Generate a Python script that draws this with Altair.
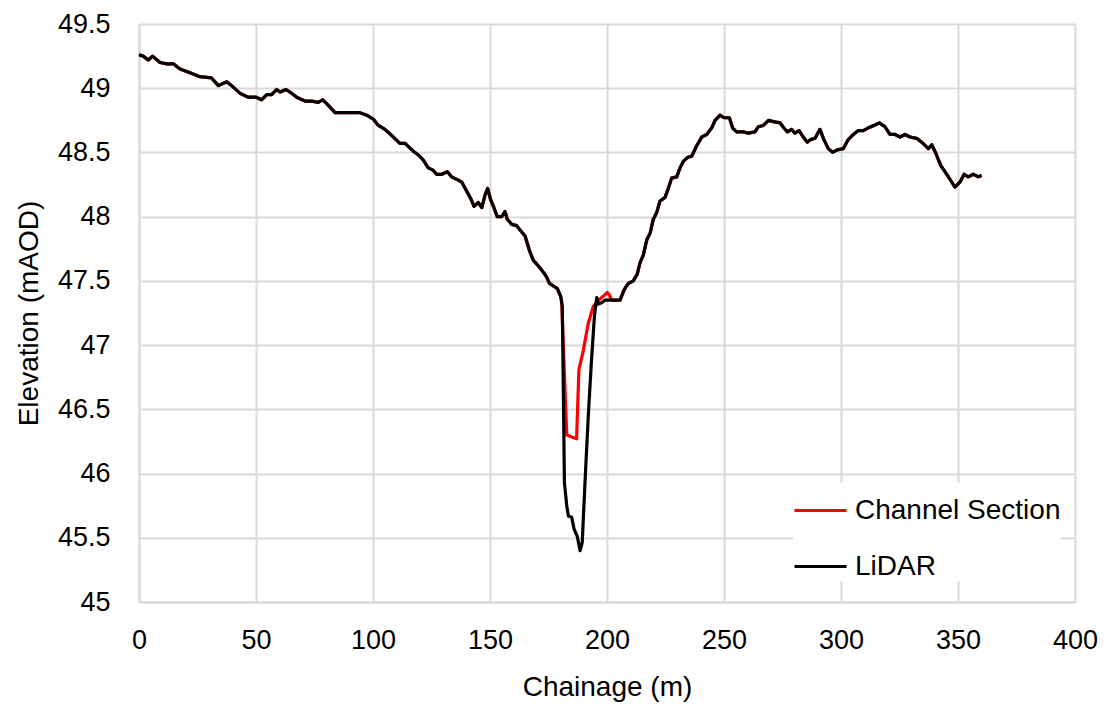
import altair as alt
import pandas as pd

# LiDAR profile (chainage m, elevation mAOD)
LIDAR_X = [0, 1.8, 4, 5.8, 9, 11.8, 14.7, 17.5, 21.8, 26, 31, 33.9, 37.5, 39.6, 43.2, 46.7, 50, 52.4,
           54.6, 56.7, 58.8, 60.3, 62.8, 64.5, 67.4, 70.9, 73.8, 76.6, 78.5, 80.2, 83.8, 87.3, 94.4, 97.3,
           100.1, 102.3, 105.1, 108.7, 111.5, 113.7, 117.2, 119.4, 121.5, 123.6, 125.8, 127.2, 129.4,
           131.8, 133.6, 135.8, 137.9, 140, 141.8, 143.2, 145, 146.5, 147.9, 149, 150.3, 151.7, 153.1,
           155, 156.4, 157.4, 159.3, 161.4, 163.1, 165, 166.8, 168.5, 170, 171.4, 173.1, 174.2, 175.4,
           177.1, 178.8, 180.2, 180.9, 181.3, 181.8, 182.8, 183.5, 184.9, 185.9, 187.3, 188.5, 189.4,
           190.6, 192, 193.4, 194.6, 195.6, 196.3, 197.7, 199.1, 200.6, 202, 205.6, 207.3, 209.1, 211.2,
           212.9, 214.1, 215.5, 217, 218.4, 219.8, 221.2, 222.6, 224.8, 226.2, 227.6, 229.8, 231.2,
           232.6, 234.3, 236.2, 238.3, 240.5, 242.6, 244.7, 246.2, 248.3, 250, 252.3, 253.7, 255.4,
           258.3, 260.4, 263.2, 264.7, 266.8, 269, 271.1, 274, 275.6, 277.1, 278.9, 280.3, 282.1,
           283.9, 285.6, 287, 288.9, 291, 292.7, 294.6, 296.4, 298.4, 301, 303.1, 305.3, 307.4, 309.5,
           311.5, 314.1, 316.4, 318.8, 320.9, 323.1, 325.2, 327.4, 329.5, 332.3, 334.5, 337.3, 338.8,
           340.6, 342.6, 345.2, 347.3, 348.7, 350.9, 352.6, 354.4, 356.5, 358.7, 360.1]
LIDAR_Y = [49.26, 49.25, 49.22, 49.25, 49.20, 49.19, 49.19, 49.15, 49.12, 49.09, 49.08, 49.02, 49.05,
           49.02, 48.96, 48.93, 48.93, 48.91, 48.95, 48.95, 48.99, 48.97, 48.99, 48.97, 48.93, 48.90,
           48.90, 48.89, 48.91, 48.88, 48.81, 48.81, 48.81, 48.79, 48.76, 48.71, 48.68, 48.62, 48.57,
           48.57, 48.51, 48.48, 48.44, 48.38, 48.36, 48.33, 48.33, 48.35, 48.31, 48.29, 48.27, 48.20,
           48.14, 48.08, 48.11, 48.07, 48.17, 48.22, 48.13, 48.07, 48.00, 48.00, 48.04, 47.98, 47.94,
           47.93, 47.89, 47.85, 47.74, 47.66, 47.63, 47.60, 47.56, 47.53, 47.48, 47.46, 47.44, 47.38,
           47.30, 46.71, 45.93, 45.75, 45.67, 45.66, 45.57, 45.51, 45.40, 45.46, 45.93, 46.45, 46.89,
           47.22, 47.37, 47.32, 47.33, 47.35, 47.35, 47.35, 47.35, 47.43, 47.48, 47.50, 47.55, 47.64,
           47.70, 47.82, 47.87, 47.98, 48.03, 48.12, 48.15, 48.22, 48.30, 48.31, 48.38, 48.43, 48.46,
           48.47, 48.55, 48.62, 48.64, 48.69, 48.75, 48.79, 48.77, 48.77, 48.69, 48.66, 48.66, 48.65,
           48.66, 48.70, 48.71, 48.75, 48.74, 48.73, 48.69, 48.66, 48.68, 48.65, 48.67, 48.62, 48.58,
           48.60, 48.61, 48.68, 48.60, 48.53, 48.50, 48.52, 48.53, 48.60, 48.64, 48.67, 48.67, 48.69,
           48.71, 48.73, 48.70, 48.64, 48.64, 48.62, 48.64, 48.62, 48.61, 48.58, 48.53, 48.56, 48.49,
           48.40, 48.33, 48.27, 48.23, 48.27, 48.33, 48.31, 48.33, 48.31, 48.32]

# Channel Section: follows LiDAR outside the channel, surveyed channel in between
CHANNEL_START = 180.2
CHANNEL_END = 202
CH_X = [180.6, 182.8, 187.0, 188.0, 189.9, 192.0, 194.1, 196.3, 198.4, 200.1, 201.0]
CH_Y = [47.35, 46.30, 46.27, 46.81, 46.96, 47.17, 47.30, 47.35, 47.38, 47.41, 47.39]

SERIES = ["Channel Section", "LiDAR"]
COLORS = ["#ff0000", "#000000"]

X_TICKS = [0, 50, 100, 150, 200, 250, 300, 350, 400]
Y_TICKS = [45, 45.5, 46, 46.5, 47, 47.5, 48, 48.5, 49, 49.5]

lidar = pd.DataFrame({"x": LIDAR_X, "y": LIDAR_Y, "series": "LiDAR"})
pre = lidar[lidar.x <= CHANNEL_START]
post = lidar[lidar.x >= CHANNEL_END]
chan = pd.concat([pre[["x", "y"]], pd.DataFrame({"x": CH_X, "y": CH_Y}), post[["x", "y"]]])
chan["series"] = "Channel Section"

FONT = "Liberation Sans"
GRID = "#d9d9d9"

x_enc = alt.X("x:Q", scale=alt.Scale(domain=[0, 400], nice=False, zero=False),
              axis=alt.Axis(values=X_TICKS, format="d", title="Chainage (m)",
                            grid=True, gridColor=GRID, gridWidth=2,
                            domainColor=GRID, domainWidth=2, ticks=False, tickSize=0,
                            labelPadding=25, labelFontSize=27, labelFont=FONT, labelColor="#000000",
                            labelFlush=False,
                            titleFont=FONT, titleFontSize=28, titleFontWeight="normal",
                            titleColor="#000000", titleBaseline="alphabetic", titleY=93))
y_enc = alt.Y("y:Q", scale=alt.Scale(domain=[45, 49.5], nice=False, zero=False),
              axis=alt.Axis(values=Y_TICKS, format="~g", title="Elevation (mAOD)",
                            grid=True, gridColor=GRID, gridWidth=2,
                            domainColor=GRID, domainWidth=2, ticks=False, tickSize=0,
                            labelPadding=29, labelFontSize=27, labelFont=FONT, labelColor="#000000",
                            labelFlush=False,
                            titleFont=FONT, titleFontSize=28, titleFontWeight="normal",
                            titleColor="#000000", titleAngle=270, titleBaseline="alphabetic",
                            titleX=-102, titleY=289))
color_enc = alt.Color("series:N",
                      scale=alt.Scale(domain=SERIES, range=COLORS),
                      legend=alt.Legend(title=None, orient="none", legendX=654, legendY=459,
                                        fillColor="white", padding=0,
                                        symbolType="stroke", symbolSize=2704, symbolStrokeWidth=3,
                                        labelFont=FONT, labelFontSize=28, labelColor="#000000",
                                        labelOffset=7, rowPadding=14, labelLimit=500))

red = alt.Chart(chan).mark_line(strokeWidth=3.2, strokeJoin="round").encode(x=x_enc, y=y_enc, color=color_enc)
black = alt.Chart(lidar).mark_line(strokeWidth=3.2, strokeJoin="round").encode(x=x_enc, y=y_enc, color=color_enc)

chart = alt.layer(red, black).properties(
    width=936, height=578,
    autosize=alt.AutoSizeParams(type="none"),
    padding={"left": 139, "top": 24, "right": 34, "bottom": 105},
    background="white",
).configure_view(stroke=None)

chart.save("out.html", embed_options={"renderer": "svg", "actions": False})
